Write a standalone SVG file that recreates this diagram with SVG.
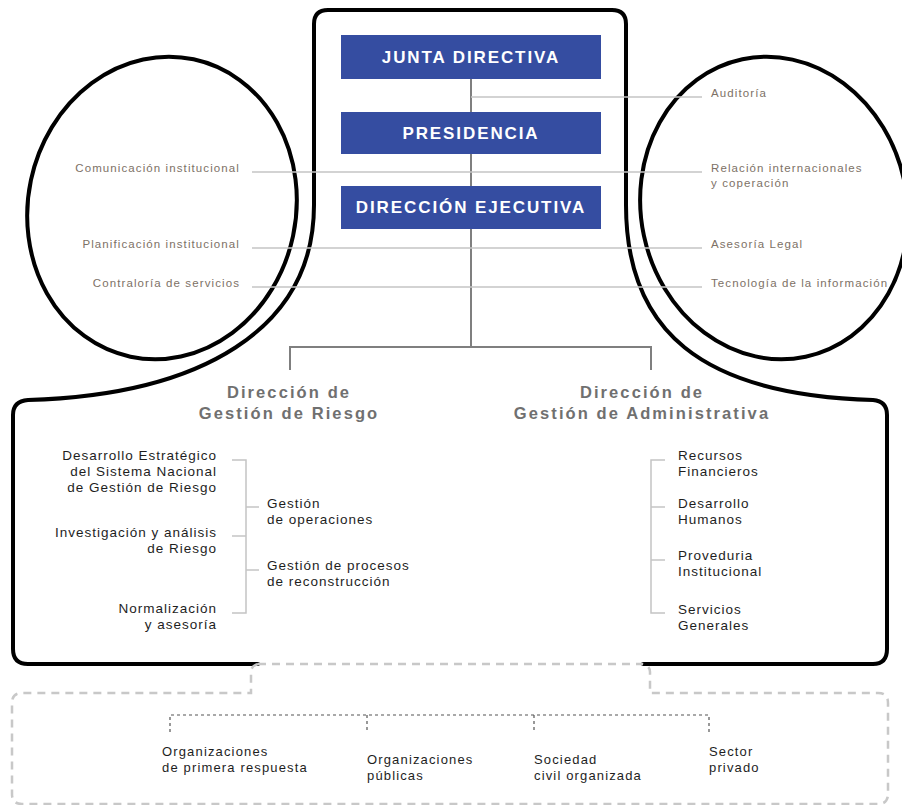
<svg xmlns="http://www.w3.org/2000/svg" width="902" height="805" viewBox="0 0 902 805">
  <style>
    .box { fill: #354da1; }
    .boxtxt { font-family: "Liberation Sans", Arial, sans-serif; font-weight: bold; font-size: 17px; letter-spacing: 1.9px; fill: #ffffff; text-anchor: middle; }
    .side { font-family: "Liberation Sans", Arial, sans-serif; font-size: 11.5px; letter-spacing: 1.1px; fill: #7d7166; }
    .head { font-family: "Liberation Sans", Arial, sans-serif; font-weight: bold; font-size: 16.5px; letter-spacing: 2.1px; fill: #707070; text-anchor: middle; }
    .item { font-family: "Liberation Sans", Arial, sans-serif; font-size: 13.5px; letter-spacing: 1px; fill: #1e1e1e; }
    .org { font-family: "Liberation Sans", Arial, sans-serif; font-size: 13px; letter-spacing: 1.15px; fill: #1e1e1e; }
    .end { text-anchor: end; }
    .outline { fill: none; stroke: #000000; stroke-width: 4; stroke-linecap: round; stroke-linejoin: round; }
    .dash { fill: none; stroke: #c8c8c8; stroke-width: 2.5; stroke-dasharray: 8 6; }
    .trunk { fill: none; stroke: #7f7f7f; stroke-width: 2; }
    .thin { fill: none; stroke: #c4c4c4; stroke-width: 1.5; }
    .dot { fill: none; stroke: #555555; stroke-width: 1.2; stroke-dasharray: 3 3; }
  </style>

  <!-- frame: upper box flowing into the lower box -->
  <path class="outline" d="M 258 664 L 28 664 Q 13 664 13 649 L 13 415 Q 13 401 28 400 C 200 395 314 330 314 205 L 314 24 Q 314 10 328 10 L 612 10 Q 626 10 626 24 L 626 205 C 626 330 700 395 873 400 Q 887 401 887 415 L 887 649 Q 887 664 873 664 L 643 664"/>

  <!-- dashed frame for external organisations -->
  <path class="dash" d="M 258 664 L 643 664"/>
  <path class="dash" d="M 258 664 Q 251 666 251 672 L 251 693 L 22 693 Q 12 693 12 703 L 12 794 Q 12 804 22 804 L 878 804 Q 888 804 888 794 L 888 703 Q 888 693 878 693 L 650 693 L 650 672 Q 650 666 643 664"/>

  <!-- staff unit circles -->
  <ellipse class="outline" cx="162" cy="208" rx="134" ry="152" transform="rotate(12 162 208)"/>
  <ellipse class="outline" cx="774" cy="208" rx="133" ry="152" transform="rotate(-12 774 208)"/>

  <!-- connectors -->
  <g id="connectors">
    <path class="trunk" d="M 471 79 L 471 347"/>
    <path class="trunk" d="M 290 370 L 290 347 L 651 347 L 651 370"/>
    <path class="thin" d="M 471 97 L 702 97"/>
    <path class="thin" d="M 252 172 L 702 172"/>
    <path class="thin" d="M 252 248 L 702 248"/>
    <path class="thin" d="M 252 287 L 702 287"/>
    <!-- risk management bracket -->
    <path class="thin" d="M 232 460 L 246 460 L 246 613 L 232 613"/>
    <path class="thin" d="M 232 536 L 246 536"/>
    <path class="thin" d="M 246 507 L 259 507"/>
    <path class="thin" d="M 246 570 L 259 570"/>
    <!-- administration bracket -->
    <path class="thin" d="M 665 460 L 651 460 L 651 613 L 665 613"/>
    <path class="thin" d="M 651 507 L 665 507"/>
    <path class="thin" d="M 651 560 L 665 560"/>
    <!-- external organisations -->
    <path class="dot" d="M 170 732 L 170 715 L 709 715 L 709 732"/>
    <path class="dot" d="M 367 715 L 367 732"/>
    <path class="dot" d="M 534 715 L 534 732"/>
  </g>

  <g id="junta">
    <rect class="box" x="341" y="35" width="260" height="44"/>
    <text class="boxtxt" x="471" y="63">JUNTA DIRECTIVA</text>
  </g>
  <g id="presidencia">
    <rect class="box" x="341" y="112" width="260" height="42"/>
    <text class="boxtxt" x="471" y="139">PRESIDENCIA</text>
  </g>
  <g id="direccion-ejecutiva">
    <rect class="box" x="341" y="186" width="260" height="43"/>
    <text class="boxtxt" x="471" y="213">DIRECCIÓN EJECUTIVA</text>
  </g>

  <g id="staff-left">
    <text class="side end" x="240" y="172">Comunicación institucional</text>
    <text class="side end" x="240" y="248">Planificación institucional</text>
    <text class="side end" x="240" y="287">Contraloría de servicios</text>
  </g>
  <g id="staff-right">
    <text class="side" x="711" y="97">Auditoría</text>
    <text class="side" x="711" y="172">Relación internacionales</text>
    <text class="side" x="711" y="187">y coperación</text>
    <text class="side" x="711" y="248">Asesoría Legal</text>
    <text class="side" x="711" y="287">Tecnología de la información</text>
  </g>

  <g id="gestion-riesgo">
    <text class="head" x="289" y="398">Dirección de</text>
    <text class="head" x="289" y="419">Gestión de Riesgo</text>
    <text class="item end" x="217" y="460">Desarrollo Estratégico</text>
    <text class="item end" x="217" y="476">del Sistema Nacional</text>
    <text class="item end" x="217" y="492">de Gestión de Riesgo</text>
    <text class="item end" x="217" y="537">Investigación y análisis</text>
    <text class="item end" x="217" y="553">de Riesgo</text>
    <text class="item end" x="217" y="613">Normalización</text>
    <text class="item end" x="217" y="629">y asesoría</text>
    <text class="item" x="267" y="508">Gestión</text>
    <text class="item" x="267" y="524">de operaciones</text>
    <text class="item" x="267" y="570">Gestión de procesos</text>
    <text class="item" x="267" y="586">de reconstrucción</text>
  </g>

  <g id="gestion-administrativa">
    <text class="head" x="642" y="398">Dirección de</text>
    <text class="head" x="642" y="419">Gestión de Administrativa</text>
    <text class="item" x="678" y="460">Recursos</text>
    <text class="item" x="678" y="476">Financieros</text>
    <text class="item" x="678" y="508">Desarrollo</text>
    <text class="item" x="678" y="524">Humanos</text>
    <text class="item" x="678" y="560">Proveduria</text>
    <text class="item" x="678" y="576">Institucional</text>
    <text class="item" x="678" y="614">Servicios</text>
    <text class="item" x="678" y="630">Generales</text>
  </g>

  <g id="organizaciones">
    <text class="org" x="162" y="756">Organizaciones</text>
    <text class="org" x="162" y="772">de primera respuesta</text>
    <text class="org" x="367" y="764">Organizaciones</text>
    <text class="org" x="367" y="780">públicas</text>
    <text class="org" x="534" y="764">Sociedad</text>
    <text class="org" x="534" y="780">civil organizada</text>
    <text class="org" x="709" y="756">Sector</text>
    <text class="org" x="709" y="772">privado</text>
  </g>
</svg>
